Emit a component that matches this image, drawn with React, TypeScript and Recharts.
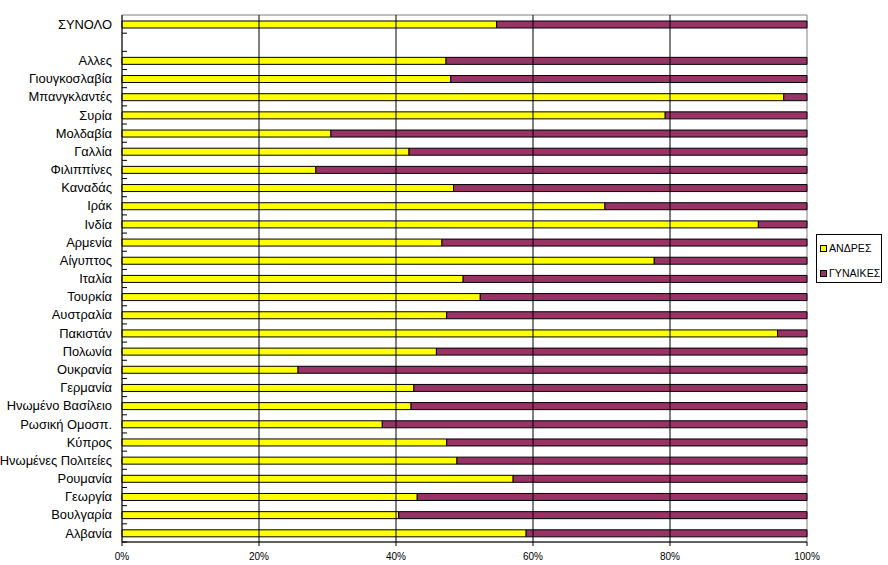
import React from 'react';
import { BarChart, Bar, XAxis, YAxis, ReferenceLine, ReferenceArea } from 'recharts';

const categories = [
  'ΣΥΝΟΛΟ', ' ', 'Αλλες', 'Γιουγκοσλαβία', 'Μπανγκλαντές', 'Συρία', 'Μολδαβία', 'Γαλλία',
  'Φιλιππίνες', 'Καναδάς', 'Ιράκ', 'Ινδία', 'Αρμενία', 'Αίγυπτος', 'Ιταλία', 'Τουρκία',
  'Αυστραλία', 'Πακιστάν', 'Πολωνία', 'Ουκρανία', 'Γερμανία', 'Ηνωμένο Βασίλειο',
  'Ρωσική Ομοσπ.', 'Κύπρος', 'Ηνωμένες Πολιτείες', 'Ρουμανία', 'Γεωργία', 'Βουλγαρία', 'Αλβανία',
];

const menShare = [
  54.7, null, 47.3, 48.0, 96.6, 79.3, 30.5, 41.9,
  28.3, 48.4, 70.5, 92.9, 46.7, 77.7, 49.8, 52.3,
  47.4, 95.7, 45.9, 25.7, 42.6, 42.2,
  38.0, 47.4, 48.9, 57.1, 43.1, 40.4, 59.0,
];

const womenShare = [
  45.3, null, 52.7, 52.0, 3.4, 20.7, 69.5, 58.1,
  71.7, 51.6, 29.5, 7.1, 53.3, 22.3, 50.2, 47.7,
  52.6, 4.3, 54.1, 74.3, 57.4, 57.8,
  62.0, 52.6, 51.1, 42.9, 56.9, 59.6, 41.0,
];

const xTicks = [0, 20, 40, 60, 80, 100];
const seriesNames = ['ΑΝΔΡΕΣ', 'ΓΥΝΑΙΚΕΣ'];
const seriesColors = ['#FFFF00', '#993366'];

const data = categories.map((name, i) => ({ name, men: menShare[i], women: womenShare[i] }));

const W = 888;
const H = 565;
const MARGIN = { top: 15, right: 81, left: 0, bottom: 0 };
const Y_W = 122;
const X_H = 23;
const PLOT_H = H - MARGIN.top - MARGIN.bottom - X_H;
const BAND = PLOT_H / categories.length;
const FONT = 'Liberation Sans, Arial, sans-serif';

function CatTick(props: any) {
  const { x, y, payload } = props;
  return (
    <g>
      <text x={x - 10} y={y} dy="0.36em" textAnchor="end" fontSize={12.9} fontFamily={FONT} fill="#000">
        {payload.value}
      </text>
      <line x1={x} x2={x + 5} y1={y + BAND / 2} y2={y + BAND / 2} stroke="#000" strokeWidth={1} />
    </g>
  );
}

function LegendBox() {
  return (
    <div
      style={{
        position: 'absolute',
        left: 816,
        top: 234,
        border: '1px solid #000',
        width: 64,
        height: 47,
        boxSizing: 'content-box',
        fontFamily: FONT,
        fontSize: 10.6,
        background: '#fff',
      }}
    >
      {seriesNames.map((n, i) => (
        <div
          key={n}
          style={{ position: 'absolute', left: 3, top: 8 + i * 25, display: 'flex', alignItems: 'center', whiteSpace: 'nowrap' }}
        >
          <span
            style={{
              display: 'inline-block',
              width: 5,
              height: 5,
              border: '1px solid #000',
              background: seriesColors[i],
              marginRight: 2,
            }}
          />
          <span style={{ lineHeight: '10px' }}>{n}</span>
        </div>
      ))}
    </div>
  );
}

export default function App() {
  return (
    <div style={{ position: 'absolute', left: 0, top: 0, width: W, height: H, background: '#fff' }}>
      <BarChart width={W} height={H} data={data} layout="vertical" margin={MARGIN} barSize={7}>
        <ReferenceArea x1={0} x2={100} fill="none" stroke="#808080" strokeWidth={1} ifOverflow="visible" />
        {[20, 40, 60, 80].map((v) => (
          <ReferenceLine key={v} x={v} stroke="#000" strokeWidth={1} />
        ))}
        <XAxis
          type="number"
          domain={[0, 100]}
          ticks={xTicks}
          tickFormatter={(v: number) => `${v}%`}
          height={X_H}
          axisLine={{ stroke: '#000' }}
          tickLine={{ stroke: '#000' }}
          tickSize={4}
          tickMargin={7}
          tick={{ fontSize: 10, fontFamily: FONT, fill: '#000' }}
          interval={0}
        />
        <YAxis
          type="category"
          dataKey="name"
          width={Y_W}
          axisLine={{ stroke: '#000' }}
          tickLine={false}
          tickSize={0}
          tickMargin={0}
          tick={<CatTick />}
          interval={0}
        />
        <Bar dataKey="men" name={seriesNames[0]} stackId="a" fill={seriesColors[0]} stroke="#000" strokeWidth={1} isAnimationActive={false} />
        <Bar dataKey="women" name={seriesNames[1]} stackId="a" fill={seriesColors[1]} stroke="#000" strokeWidth={1} isAnimationActive={false} />
      </BarChart>
      <LegendBox />
    </div>
  );
}
